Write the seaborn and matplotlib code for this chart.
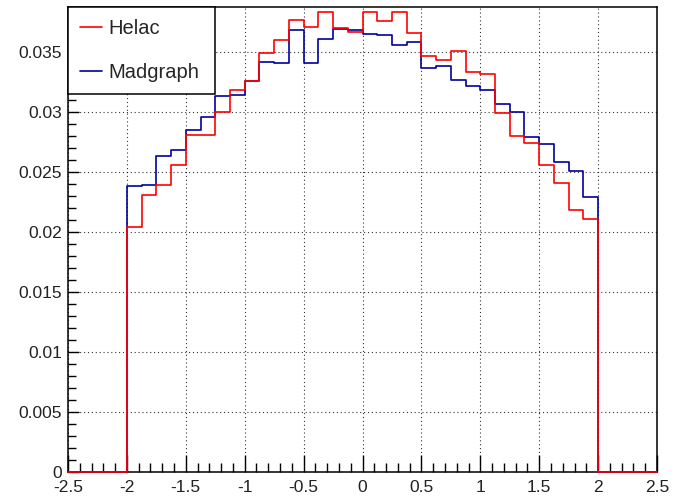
import numpy as np
import pandas as pd
import seaborn as sns
import matplotlib.pyplot as plt
from matplotlib.lines import Line2D
from matplotlib.ticker import FixedLocator, MultipleLocator

# 40 bins from -2.5 to 2.5 (normalised distributions)
bin_edges = np.linspace(-2.5, 2.5, 41)
bin_centers = (bin_edges[:-1] + bin_edges[1:]) / 2

helac = [0, 0, 0, 0,
         0.0204, 0.0231, 0.0239, 0.0256, 0.0281, 0.0281, 0.0300, 0.0318,
         0.0326, 0.0349, 0.0360, 0.0377, 0.0371, 0.0383, 0.0370, 0.0367,
         0.0383, 0.0376, 0.0383, 0.0366, 0.0347, 0.0343, 0.0351, 0.0333,
         0.0332, 0.0299, 0.0280, 0.0274, 0.0256, 0.0241, 0.0218, 0.0211,
         0, 0, 0, 0]
madgraph = [0, 0, 0, 0,
            0.0238, 0.0239, 0.0263, 0.0268, 0.0285, 0.0296, 0.0313, 0.0314,
            0.0326, 0.0342, 0.0341, 0.0368, 0.0341, 0.0361, 0.0369, 0.0368,
            0.0365, 0.0364, 0.0356, 0.0358, 0.0337, 0.0338, 0.0327, 0.0322,
            0.0318, 0.0307, 0.0300, 0.0279, 0.0273, 0.0258, 0.0251, 0.0229,
            0, 0, 0, 0]

labels = ["Helac", "Madgraph"]
colors = ["#ff0000", "#00009c"]

x_ticks = [-2.5, -2, -1.5, -1, -0.5, 0, 0.5, 1, 1.5, 2, 2.5]
x_tick_labels = ["-2.5", "-2", "-1.5", "-1", "-0.5", "0", "0.5", "1", "1.5", "2", "2.5"]
y_ticks = [0, 0.005, 0.01, 0.015, 0.02, 0.025, 0.03, 0.035]
y_tick_labels = ["0", "0.005", "0.01", "0.015", "0.02", "0.025", "0.03", "0.035"]

df = pd.DataFrame({
    "x": np.concatenate([bin_centers, bin_centers]),
    "w": np.concatenate([helac, madgraph]),
    "gen": ["Helac"] * 40 + ["Madgraph"] * 40,
})

sns.set_style("white")
plt.rcParams["font.family"] = ["Liberation Sans", "DejaVu Sans"]
plt.rcParams["axes.unicode_minus"] = False

fig = plt.figure(figsize=(6.75, 4.97), dpi=100)
ax = fig.add_axes([68 / 675, 1 - 472 / 497, 589 / 675, 465.3 / 497])

# draw Madgraph first so Helac sits on top
for name, col in [("Madgraph", colors[1]), ("Helac", colors[0])]:
    sns.histplot(data=df[df["gen"] == name], x="x", weights="w",
                 binwidth=0.125, binrange=(-2.5, 2.5),
                 element="step", fill=False, color=col, linewidth=1.2, ax=ax)

# put the histogram lines over the frame so the zero level shows
for ln in ax.lines:
    ln.set_zorder(3)
    ln.set_clip_on(False)

ax.set_xlim(-2.5, 2.5)
ax.set_ylim(0, 0.03878)
ax.set_xlabel("")
ax.set_ylabel("")

ax.xaxis.set_major_locator(FixedLocator(x_ticks))
ax.set_xticklabels(x_tick_labels)
ax.xaxis.set_minor_locator(MultipleLocator(0.1))
ax.yaxis.set_major_locator(FixedLocator(y_ticks))
ax.set_yticklabels(y_tick_labels)
ax.yaxis.set_minor_locator(MultipleLocator(0.001))

ax.tick_params(which="both", bottom=True, left=True, top=False, right=False)
ax.tick_params(axis="x", which="major", direction="in", length=12, width=1, pad=5.5, labelsize=12.5, color="black")
ax.tick_params(axis="x", which="minor", direction="in", length=6.2, width=1, color="black")
ax.tick_params(axis="y", which="major", direction="in", length=7.7, width=1, pad=4.3, labelsize=12.5, color="black")
ax.tick_params(axis="y", which="minor", direction="in", length=5.5, width=1, color="black")
ax.tick_params(labelcolor="#222222")

ax.grid(True, which="major", color="black", linestyle=(0, (1, 2.5)), linewidth=0.8, alpha=0.8)

for sp in ax.spines.values():
    sp.set_color("black")
    sp.set_linewidth(1.1)

handles = [Line2D([], [], color=c, linewidth=1.2) for c in colors]
leg = ax.legend(handles, labels, loc="upper left", bbox_to_anchor=(0, 0, 147 / 589, 1),
                mode="expand", borderaxespad=0, borderpad=0.6, labelspacing=1.23,
                handlelength=1.1, handletextpad=0.3, fontsize=14.5, fancybox=False,
                framealpha=1, edgecolor="black")
leg.get_frame().set_linewidth(1.1)
leg.set_zorder(5)

fig.savefig("out.png", dpi=100)
